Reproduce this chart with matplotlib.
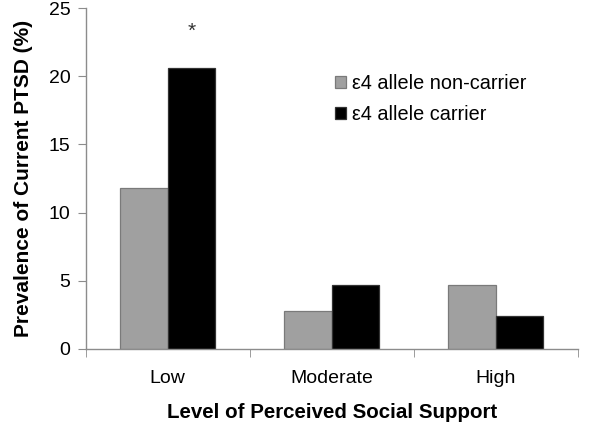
import numpy as np
import matplotlib
matplotlib.use("Agg")
import matplotlib.pyplot as plt

plt.rcParams["font.family"] = ["Liberation Sans", "DejaVu Sans"]

categories = ["Low", "Moderate", "High"]
non_carrier = [11.8, 2.8, 4.7]
carrier = [20.6, 4.7, 2.4]
series_labels = ["\u03b54 allele non-carrier", "\u03b54 allele carrier"]

GREY = "#a0a0a0"
AXIS = "#8c8c8c"

fig = plt.figure(figsize=(6.0, 4.26), dpi=100)
ax = fig.add_axes([0.143, 0.181, 0.820, 0.800])

x = np.arange(len(categories))
w = 0.29
ax.bar(x - w / 2, non_carrier, width=w, color=GREY, edgecolor="#7a7a7a",
       linewidth=0.9, label=series_labels[0])
ax.bar(x + w / 2, carrier, width=w, color="black", edgecolor="#333333",
       linewidth=0.9, label=series_labels[1])

# significance mark over the low-support carrier bar
ax.text(x[0] + w / 2, carrier[0] + 2.7, "*", ha="center", va="center",
        fontsize=15, color="#333333")

ax.set_xlim(-0.5, 2.5)
ax.set_ylim(0, 25)
ax.set_yticks([0, 5, 10, 15, 20, 25])
ax.set_xticks(x)
ax.set_xticklabels(categories)
ax.set_xticks([-0.5, 0.5, 1.5, 2.5], minor=True)
ax.tick_params(axis="x", which="major", length=0, pad=15, labelsize=14)
ax.tick_params(axis="x", which="minor", length=6, color=AXIS, direction="out")
ax.tick_params(axis="y", length=6, color=AXIS, labelsize=14, pad=5)

for s in ("top", "right"):
    ax.spines[s].set_visible(False)
for s in ("left", "bottom"):
    ax.spines[s].set_color(AXIS)
    ax.spines[s].set_linewidth(1.0)

ax.set_xlabel("Level of Perceived Social Support", fontsize=14.8,
              fontweight="bold")
ax.xaxis.set_label_coords(0.5, -0.158)
ax.set_ylabel("Prevalence of Current PTSD (%)", fontsize=15,
              fontweight="bold")
ax.yaxis.set_label_coords(-0.108, 0.5)

ax.legend(loc="upper left", bbox_to_anchor=(0.47, 0.86), frameon=False,
          fontsize=14.3, handlelength=0.55, handleheight=0.55, handletextpad=0.3,
          labelspacing=0.6)

fig.savefig("out.png", dpi=100)
